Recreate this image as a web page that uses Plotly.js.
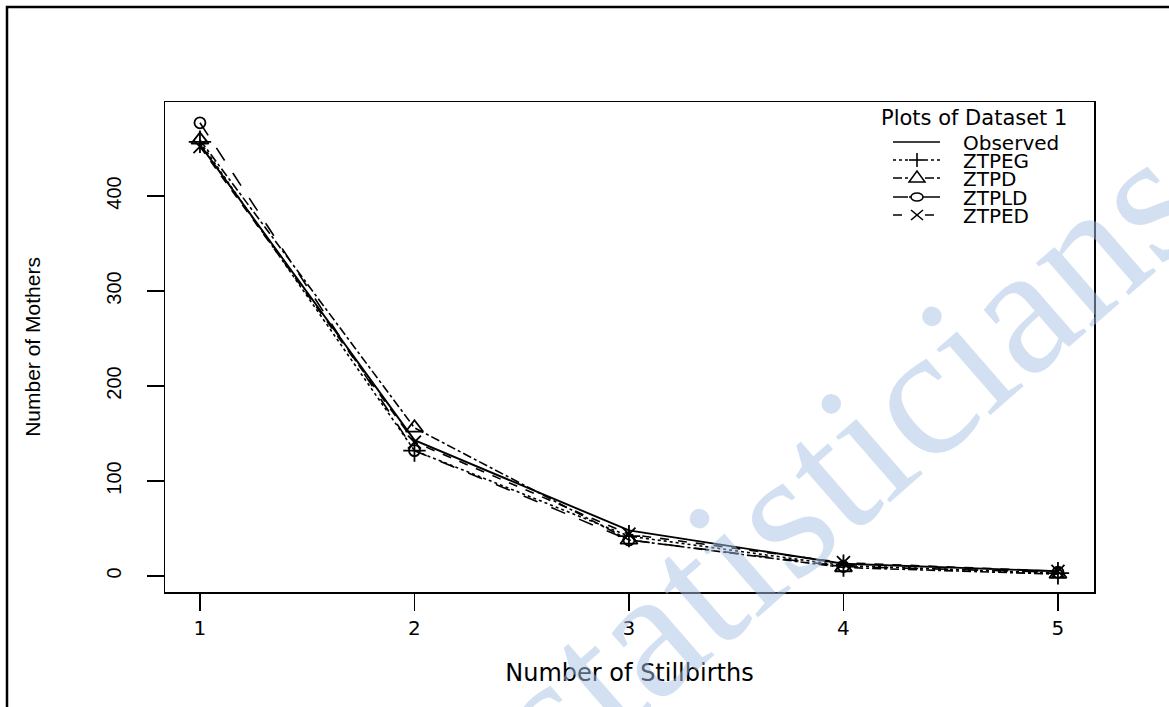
<!DOCTYPE html>
<html>
<head>
<meta charset="utf-8">
<script src="https://cdn.plot.ly/plotly-3.0.1.min.js"></script>
<style>html,body{margin:0;padding:0;background:#fff;}#chart{width:1169px;height:707px;}</style>
</head>
<body>
<div id="chart"></div>
<script>
const stillbirths = [1, 2, 3, 4, 5];
const observed = [454, 143, 48, 13, 5];
const ztpeg = [457, 132, 42, 11, 3];
const ztpd = [459, 156, 38, 9, 2];
const ztpld = [477, 132, 38, 10, 4];
const ztped = [452, 141, 44, 14, 5];
const xTicks = [1, 2, 3, 4, 5];
const yTicks = [0, 100, 200, 300, 400];
const seriesNames = ['Observed', 'ZTPEG', 'ZTPD', 'ZTPLD', 'ZTPED'];
const legendTitle = 'Plots of Dataset 1';

const dashes = ['solid', 'dot', 'dashdot', 'longdash', 'dash'];
const symbols = [null, 'cross-thin', 'triangle-up-open', 'circle-open', 'x-thin'];
const sizes = [0, 16, 15, 11, 13];
const seriesValues = [observed, ztpeg, ztpd, ztpld, ztped];

const traces = seriesValues.map((vals, i) => {
  const t = {
    name: seriesNames[i], x: stillbirths, y: vals, showlegend: false,
    mode: symbols[i] ? 'lines+markers' : 'lines',
    line: {color: '#000', width: i === 0 ? 1.9 : 1.6, dash: dashes[i]}
  };
  if (symbols[i]) t.marker = {symbol: symbols[i], size: sizes[i], color: '#000', line: {color: '#000', width: 1.8}};
  return t;
});

// plot-area geometry (pixels) used only to place the hand-drawn legend
const L = 165, R = 75, T = 102, B = 115, W = 1169, H = 707;
const pw = W - L - R, ph = H - T - B;
const px = x => (x - L) / pw;
const py = y => (H - B - y) / ph;

const shapes = [
  {type: 'rect', xref: 'paper', yref: 'paper', x0: px(7), x1: px(1190), y0: py(730), y1: py(7),
   line: {color: '#000', width: 2.5}, fillcolor: 'rgba(0,0,0,0)', layer: 'above'}
];
const annotations = [
  {text: 'statisticians', xref: 'paper', yref: 'paper', x: px(845), y: py(458),
   xanchor: 'center', yanchor: 'middle', showarrow: false, textangle: -41,
   font: {family: 'Liberation Serif, Times New Roman, serif', size: 185, color: 'rgba(165,194,230,0.5)'}},
  {text: legendTitle, xref: 'paper', yref: 'paper', x: px(879), y: py(118),
   xanchor: 'left', yanchor: 'middle', showarrow: false,
   font: {family: 'DejaVu Sans, sans-serif', size: 21, color: '#000'}}
];

const rowY = [142, 160, 178, 197, 215];
const lx0 = 893, lx1 = 940, mx = 917;
const ln = (x0, y0, x1, y1, dash, w) => ({type: 'line', xref: 'paper', yref: 'paper',
  x0: px(x0), y0: py(y0), x1: px(x1), y1: py(y1), line: {color: '#000', width: w || 1.5, dash: dash || 'solid'}});

seriesNames.forEach((nm, i) => {
  const y = rowY[i];
  if (i === 0) {
    shapes.push(ln(lx0, y, lx1, y, 'solid', 1.7));
  } else {
    shapes.push(ln(lx0, y, mx - 8, y, dashes[i]));
    shapes.push(ln(mx + 8, y, lx1, y, dashes[i]));
  }
  if (i === 1) {
    shapes.push(ln(mx - 8, y, mx + 8, y, 'solid', 1.6));
    shapes.push(ln(mx, y - 7, mx, y + 7, 'solid', 1.6));
  } else if (i === 2) {
    shapes.push({type: 'path', xref: 'paper', yref: 'paper',
      path: `M ${px(mx)} ${py(y - 7)} L ${px(mx - 8)} ${py(y + 4)} L ${px(mx + 8)} ${py(y + 4)} Z`,
      line: {color: '#000', width: 1.5}, fillcolor: 'rgba(0,0,0,0)'});
  } else if (i === 3) {
    shapes.push({type: 'circle', xref: 'paper', yref: 'paper',
      x0: px(mx - 6), x1: px(mx + 6), y0: py(y + 4), y1: py(y - 4),
      line: {color: '#000', width: 1.5}, fillcolor: 'rgba(0,0,0,0)'});
    shapes.push(ln(mx - 8, y, mx - 6, y));
    shapes.push(ln(mx + 6, y, mx + 8, y));
  } else if (i === 4) {
    shapes.push(ln(mx - 6, y - 5, mx + 6, y + 5, 'solid', 1.6));
    shapes.push(ln(mx - 6, y + 5, mx + 6, y - 5, 'solid', 1.6));
  }
  annotations.push({text: nm, xref: 'paper', yref: 'paper', x: px(961), y: py(y + 1),
    xanchor: 'left', yanchor: 'middle', showarrow: false,
    font: {family: 'DejaVu Sans, sans-serif', size: 20, color: '#000'}});
});

const layout = {
  width: W, height: H,
  margin: {l: L, r: R, t: T, b: B},
  paper_bgcolor: '#fff', plot_bgcolor: '#fff',
  font: {family: 'Liberation Sans, Arial, sans-serif', color: '#000', size: 18},
  showlegend: false,
  xaxis: {
    range: [0.837, 5.168], tickvals: xTicks, ticktext: xTicks.map(String),
    showgrid: false, zeroline: false, showline: true, mirror: true,
    linecolor: '#000', linewidth: 1.5, ticks: 'outside', ticklen: 17, tickwidth: 1.5, tickcolor: '#000',
    tickfont: {size: 20, family: 'DejaVu Sans, sans-serif'},
    title: {text: 'Number of Stillbirths', font: {size: 24, family: 'DejaVu Sans, sans-serif'}, standoff: 25}
  },
  yaxis: {
    range: [-16.8, 498.9], tickvals: yTicks, ticktext: yTicks.map(String),
    showgrid: false, zeroline: false, showline: true, mirror: true,
    linecolor: '#000', linewidth: 1.5, ticks: 'outside', ticklen: 17, tickwidth: 1.5, tickcolor: '#000',
    tickangle: -90, tickfont: {size: 20}, ticklabelstandoff: 18,
    title: {text: 'Number of Mothers', font: {size: 21, family: 'Liberation Sans Narrow, Arial Narrow, sans-serif'}, standoff: 56}
  },
  shapes: shapes,
  annotations: annotations
};

Plotly.newPlot('chart', traces, layout, {displayModeBar: false, staticPlot: true});
</script>
</body>
</html>
